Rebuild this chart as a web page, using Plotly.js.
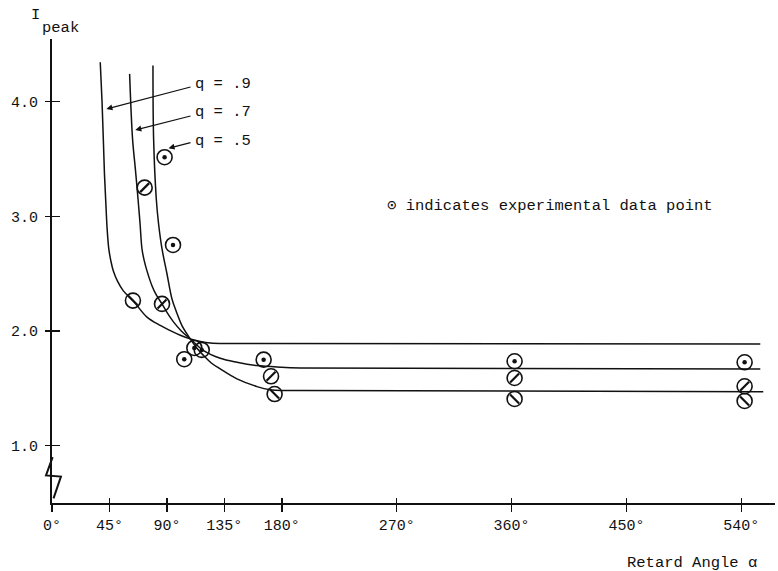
<!DOCTYPE html>
<html>
<head>
<meta charset="utf-8">
<script src="https://cdn.plot.ly/plotly-3.0.1.min.js"></script>
<style>html,body{margin:0;padding:0;background:#fff;}#chart{width:778px;height:571px;}</style>
</head>
<body>
<div id="chart"></div>
<script>
// ---- data ----
const xTickVals = [0, 45, 90, 135, 180, 270, 360, 450, 540];
const xTickText = ['0°', '45°', '90°', '135°', '180°', '270°', '360°', '450°', '540°'];
const yTickVals = [1, 2, 3, 4];
const yTickText = ['1.0', '2.0', '3.0', '4.0'];

const qLabels = ['q = .9', 'q = .7', 'q = .5'];

const q9x = [37.8, 39.2, 40.2, 41.1, 42.2, 43.2, 44.5, 46.1, 48.0, 51.2, 55.9, 63.5, 74.4, 84.8, 92.7, 100.5, 108.3, 116.2, 124.0, 139.7, 554.9];
const q9y = [4.344, 4.000, 3.675, 3.370, 3.108, 2.890, 2.716, 2.612, 2.525, 2.437, 2.350, 2.265, 2.121, 2.048, 2.003, 1.963, 1.931, 1.909, 1.896, 1.891, 1.887];

const q7x = [60.8, 63.1, 65.3, 67.4, 69.0, 70.5, 72.3, 74.4, 78.3, 81.7, 86.2, 90.3, 95.3, 101.3, 108.3, 118.8, 131.8, 144.9, 160.6, 178.8, 194.5, 554.9];
const q7y = [4.242, 3.675, 3.413, 3.151, 2.933, 2.715, 2.611, 2.524, 2.395, 2.314, 2.236, 2.157, 2.077, 2.000, 1.931, 1.829, 1.762, 1.727, 1.698, 1.684, 1.678, 1.669];

const q5x = [79.1, 79.6, 81.7, 83.5, 86.2, 90.1, 94.0, 97.8, 101.8, 108.3, 113.4, 118.8, 124.8, 131.8, 144.9, 160.6, 171.0, 182.8, 194.5, 557.2];
const q5y = [4.314, 3.675, 3.151, 2.933, 2.715, 2.497, 2.279, 2.157, 2.047, 1.931, 1.852, 1.785, 1.721, 1.669, 1.582, 1.515, 1.488, 1.481, 1.480, 1.471];

// experimental data points
const ptX = [88.2, 94.8, 103.6, 111.5, 117.3, 165.8, 362.4, 542.6, 72.6, 86.2, 171.6, 362.4, 542.6, 63.4, 174.4, 362.4, 542.6];
const ptY = [3.515, 2.75, 1.754, 1.852, 1.835, 1.75, 1.736, 1.727, 3.25, 2.236, 1.605, 1.59, 1.518, 2.265, 1.45, 1.407, 1.39];
const ptMark = ['dot','dot','dot','dot','dot','dot','dot','dot','slash','slash','slash','slash','slash','back','back','back','back'];

// axis break zigzag (data units)
const breakX = [0.5, -4.7, 7.0, 1.2];
const breakY = [0.90, 0.74, 0.73, 0.54];

// ---- figure ----
const FONT = 'Liberation Mono, Courier New, DejaVu Sans Mono, monospace';
const xr = [0, 566.4];
const yr = [0.5, 4.546];

function sel(arr, kind) { return arr.filter((v, i) => ptMark[i] === kind); }

const lineStyle = {color: '#111', width: 1.5, shape: 'spline', smoothing: 1.0};
const traces = [
  {x: q9x, y: q9y, mode: 'lines', line: lineStyle, hoverinfo: 'skip'},
  {x: q7x, y: q7y, mode: 'lines', line: lineStyle, hoverinfo: 'skip'},
  {x: q5x, y: q5y, mode: 'lines', line: lineStyle, hoverinfo: 'skip'},
  {x: ptX, y: ptY, mode: 'markers', hoverinfo: 'skip',
   marker: {symbol: 'circle-open', size: 15, color: '#111', line: {width: 1.6, color: '#111'}}},
  {x: sel(ptX, 'dot'), y: sel(ptY, 'dot'), mode: 'markers', hoverinfo: 'skip',
   marker: {symbol: 'circle', size: 4.5, color: '#111'}},
  {x: sel(ptX, 'slash'), y: sel(ptY, 'slash'), mode: 'markers', hoverinfo: 'skip',
   marker: {symbol: 'line-ne', size: 9, color: '#111', line: {width: 2.2, color: '#111'}}},
  {x: sel(ptX, 'back'), y: sel(ptY, 'back'), mode: 'markers', hoverinfo: 'skip',
   marker: {symbol: 'line-nw', size: 9, color: '#111', line: {width: 2.2, color: '#111'}}},
  {x: [null], y: [null], xaxis: 'x2', yaxis: 'y2', mode: 'markers', hoverinfo: 'skip'}
];

const px = v => (v - xr[0]) / (xr[1] - xr[0]);
const py = v => (v - yr[0]) / (yr[1] - yr[0]);
let zig = 'M ' + px(breakX[0]) + ' ' + py(breakY[0]);
for (let i = 1; i < breakX.length; i++) zig += ' L ' + px(breakX[i]) + ' ' + py(breakY[i]);

// label/arrow geometry
const labX = 110.7;
const labY = [4.154, 3.906, 3.657];
const headX = [42.6, 65.3, 91.3];
const headY = [3.936, 3.753, 3.594];
const tailX = 109.7;
const tailY = [4.131, 3.878, 3.646];

const annotations = [];
for (let i = 0; i < 3; i++) {
  annotations.push({x: labX, y: labY[i], xref: 'x', yref: 'y', text: qLabels[i], showarrow: false,
    xanchor: 'left', yanchor: 'middle', font: {family: FONT, size: 15.5, color: '#111'}});
  annotations.push({x: headX[i], y: headY[i], ax: tailX, ay: tailY[i], xref: 'x', yref: 'y',
    axref: 'x', ayref: 'y', text: '', showarrow: true, arrowhead: 2, arrowsize: 1, arrowwidth: 1.2, arrowcolor: '#111'});
}
annotations.push({x: 261.1, y: 3.09, xref: 'x', yref: 'y', text: '⊙ indicates experimental data point',
  showarrow: false, xanchor: 'left', yanchor: 'middle', font: {family: FONT, size: 15.5, color: '#111'}});
annotations.push({x: -0.0235, y: 1.0517, xref: 'paper', yref: 'paper', text: 'I',
  showarrow: false, xanchor: 'center', yanchor: 'middle', font: {family: FONT, size: 15.5, color: '#111'}});
annotations.push({x: -0.0166, y: 1.0237, xref: 'paper', yref: 'paper', text: 'peak',
  showarrow: false, xanchor: 'left', yanchor: 'middle', font: {family: FONT, size: 15.5, color: '#111'}});
annotations.push({x: 0.7925, y: -0.129, xref: 'paper', yref: 'paper', text: 'Retard Angle α',
  showarrow: false, xanchor: 'left', yanchor: 'middle', font: {family: FONT, size: 15.5, color: '#111'}});

const layout = {
  width: 778, height: 571,
  margin: {l: 52, r: 3, t: 39, b: 68},
  paper_bgcolor: '#fff', plot_bgcolor: '#fff',
  showlegend: false,
  xaxis: {range: xr, tickvals: xTickVals, ticktext: xTickText, ticks: 'outside', ticklen: 7, tickwidth: 1.5,
    tickcolor: '#111', showline: true, linecolor: '#111', linewidth: 2, showgrid: false, zeroline: false,
    tickfont: {family: FONT, size: 15, color: '#111'}, fixedrange: true},
  yaxis: {range: yr, tickvals: yTickVals, ticktext: yTickText, ticks: 'outside', ticklen: 5, tickwidth: 1.5,
    tickcolor: '#111', showline: true, linecolor: '#111', linewidth: 2, showgrid: false, zeroline: false,
    tickfont: {family: FONT, size: 15, color: '#111'}, ticklabelstandoff: 4, fixedrange: true},
  xaxis2: {range: xr, overlaying: 'x', anchor: 'y', side: 'bottom', tickvals: xTickVals, ticks: 'inside', ticklen: 5,
    tickwidth: 1.5, tickcolor: '#111', showticklabels: false, showline: false, showgrid: false, zeroline: false},
  yaxis2: {range: yr, overlaying: 'y', anchor: 'x', side: 'left', tickvals: yTickVals, ticks: 'inside', ticklen: 8,
    tickwidth: 1.5, tickcolor: '#111', showticklabels: false, showline: false, showgrid: false, zeroline: false},
  shapes: [{type: 'path', xref: 'paper', yref: 'paper', path: zig, line: {color: '#111', width: 2}}],
  annotations: annotations
};

Plotly.newPlot('chart', traces, layout, {staticPlot: true, displayModeBar: false});
</script>
</body>
</html>
